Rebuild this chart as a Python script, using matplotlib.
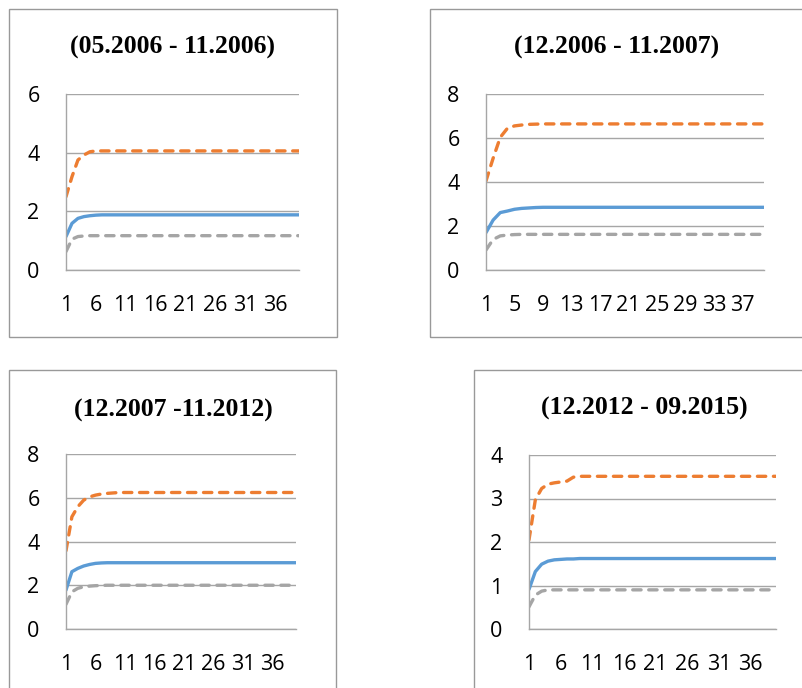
import matplotlib
matplotlib.use('Agg')
import matplotlib.pyplot as plt
from matplotlib.patches import Rectangle

W, H = 803, 688

titles = ['(05.2006 - 11.2006)', '(12.2006 - 11.2007)',
          '(12.2007 -11.2012)', '(12.2012 - 09.2015)']
periods = list(range(1, 41))

# panel 1
p1_orange = [2.50, 3.18, 3.75, 3.92, 4.03, 4.06, 4.06, 4.06, 4.06, 4.06,
             4.06, 4.06, 4.06, 4.06, 4.06, 4.06, 4.06, 4.06, 4.06, 4.06,
             4.06, 4.06, 4.06, 4.06, 4.06, 4.06, 4.06, 4.06, 4.06, 4.06,
             4.06, 4.06, 4.06, 4.06, 4.06, 4.06, 4.06, 4.06, 4.06, 4.06]
p1_blue = [1.14, 1.59, 1.76, 1.82, 1.85, 1.87, 1.88, 1.88, 1.88, 1.88,
           1.88, 1.88, 1.88, 1.88, 1.88, 1.88, 1.88, 1.88, 1.88, 1.88,
           1.88, 1.88, 1.88, 1.88, 1.88, 1.88, 1.88, 1.88, 1.88, 1.88,
           1.88, 1.88, 1.88, 1.88, 1.88, 1.88, 1.88, 1.88, 1.88, 1.88]
p1_gray = [0.63, 1.05, 1.14, 1.16, 1.17, 1.17, 1.17, 1.17, 1.17, 1.17,
           1.17, 1.17, 1.17, 1.17, 1.17, 1.17, 1.17, 1.17, 1.17, 1.17,
           1.17, 1.17, 1.17, 1.17, 1.17, 1.17, 1.17, 1.17, 1.17, 1.17,
           1.17, 1.17, 1.17, 1.17, 1.17, 1.17, 1.17, 1.17, 1.17, 1.17]

# panel 2
p2_orange = [4.05, 5.08, 6.03, 6.44, 6.55, 6.59, 6.62, 6.63, 6.64, 6.64,
             6.64, 6.64, 6.64, 6.64, 6.64, 6.64, 6.64, 6.64, 6.64, 6.64,
             6.64, 6.64, 6.64, 6.64, 6.64, 6.64, 6.64, 6.64, 6.64, 6.64,
             6.64, 6.64, 6.64, 6.64, 6.64, 6.64, 6.64, 6.64, 6.64, 6.64]
p2_blue = [1.70, 2.27, 2.61, 2.68, 2.76, 2.80, 2.82, 2.84, 2.85, 2.85,
           2.85, 2.85, 2.85, 2.85, 2.85, 2.85, 2.85, 2.85, 2.85, 2.85,
           2.85, 2.85, 2.85, 2.85, 2.85, 2.85, 2.85, 2.85, 2.85, 2.85,
           2.85, 2.85, 2.85, 2.85, 2.85, 2.85, 2.85, 2.85, 2.85, 2.85]
p2_gray = [0.91, 1.39, 1.55, 1.59, 1.61, 1.62, 1.62, 1.62, 1.62, 1.62,
           1.62, 1.62, 1.62, 1.62, 1.62, 1.62, 1.62, 1.62, 1.62, 1.62,
           1.62, 1.62, 1.62, 1.62, 1.62, 1.62, 1.62, 1.62, 1.62, 1.62,
           1.62, 1.62, 1.62, 1.62, 1.62, 1.62, 1.62, 1.62, 1.62, 1.62]

# panel 3
p3_orange = [3.58, 5.13, 5.59, 5.89, 6.04, 6.12, 6.17, 6.20, 6.22, 6.24,
             6.24, 6.24, 6.24, 6.24, 6.24, 6.24, 6.24, 6.24, 6.24, 6.24,
             6.24, 6.24, 6.24, 6.24, 6.24, 6.24, 6.24, 6.24, 6.24, 6.24,
             6.24, 6.24, 6.24, 6.24, 6.24, 6.24, 6.24, 6.24, 6.24, 6.24]
p3_blue = [1.78, 2.62, 2.77, 2.88, 2.95, 3.00, 3.02, 3.03, 3.03, 3.03,
           3.03, 3.03, 3.03, 3.03, 3.03, 3.03, 3.03, 3.03, 3.03, 3.03,
           3.03, 3.03, 3.03, 3.03, 3.03, 3.03, 3.03, 3.03, 3.03, 3.03,
           3.03, 3.03, 3.03, 3.03, 3.03, 3.03, 3.03, 3.03, 3.03, 3.03]
p3_gray = [1.13, 1.70, 1.86, 1.93, 1.96, 1.98, 1.99, 2.00, 2.00, 2.00,
           2.00, 2.00, 2.00, 2.00, 2.00, 2.00, 2.00, 2.00, 2.00, 2.00,
           2.00, 2.00, 2.00, 2.00, 2.00, 2.00, 2.00, 2.00, 2.00, 2.00,
           2.00, 2.00, 2.00, 2.00, 2.00, 2.00, 2.00, 2.00, 2.00, 2.00]

# panel 4
p4_orange = [2.05, 2.97, 3.23, 3.33, 3.36, 3.38, 3.40, 3.49, 3.51, 3.51,
             3.51, 3.51, 3.51, 3.51, 3.51, 3.51, 3.51, 3.51, 3.51, 3.51,
             3.51, 3.51, 3.51, 3.51, 3.51, 3.51, 3.51, 3.51, 3.51, 3.51,
             3.51, 3.51, 3.51, 3.51, 3.51, 3.51, 3.51, 3.51, 3.51, 3.51]
p4_blue = [0.91, 1.32, 1.49, 1.56, 1.59, 1.60, 1.61, 1.61, 1.62, 1.62,
           1.62, 1.62, 1.62, 1.62, 1.62, 1.62, 1.62, 1.62, 1.62, 1.62,
           1.62, 1.62, 1.62, 1.62, 1.62, 1.62, 1.62, 1.62, 1.62, 1.62,
           1.62, 1.62, 1.62, 1.62, 1.62, 1.62, 1.62, 1.62, 1.62, 1.62]
p4_gray = [0.51, 0.78, 0.87, 0.90, 0.90, 0.90, 0.90, 0.90, 0.90, 0.90,
           0.90, 0.90, 0.90, 0.90, 0.90, 0.90, 0.90, 0.90, 0.90, 0.90,
           0.90, 0.90, 0.90, 0.90, 0.90, 0.90, 0.90, 0.90, 0.90, 0.90,
           0.90, 0.90, 0.90, 0.90, 0.90, 0.90, 0.90, 0.90, 0.90, 0.90]

# layout in pixels: box (l, t, r, b), plot area (l, t, r, b), title centre (x, y)
panels = [
    dict(box=(9, 9, 337, 337), area=(66, 94, 299, 270), tc=(173, 47),
         ymax=6, ystep=2, xstep=5, series=(p1_blue, p1_orange, p1_gray)),
    dict(box=(430, 9, 812, 337), area=(486, 94, 764, 270), tc=(617, 47),
         ymax=8, ystep=2, xstep=4, series=(p2_blue, p2_orange, p2_gray)),
    dict(box=(9, 370, 336, 700), area=(66, 454, 296, 629), tc=(173, 410),
         ymax=8, ystep=2, xstep=5, series=(p3_blue, p3_orange, p3_gray)),
    dict(box=(474, 370, 812, 700), area=(529, 455, 776, 629), tc=(644, 408),
         ymax=4, ystep=1, xstep=5, series=(p4_blue, p4_orange, p4_gray)),
]

fig = plt.figure(figsize=(W / 100, H / 100), dpi=100)
fig.patch.set_facecolor('white')

grid_c = '#a6a6a6'
for p, title in zip(panels, titles):
    l, t, r, b = p['box']
    fig.patches.append(Rectangle((l / W, 1 - b / H), (r - l) / W, (b - t) / H,
                                 transform=fig.transFigure, fill=False,
                                 edgecolor='#999999', linewidth=1.0))
    fig.text(p['tc'][0] / W, 1 - p['tc'][1] / H, title, ha='center', va='center',
             family='Liberation Serif', fontweight='bold', fontsize=18.5)

    l, t, r, b = p['area']
    ax = fig.add_axes([l / W, 1 - b / H, (r - l) / W, (b - t) / H])
    blue, orange, gray = p['series']
    ax.plot(periods, blue, color='#5B9BD5', lw=2.4, solid_capstyle='round')
    ax.plot(periods, orange, color='#ED7D31', lw=2.4, dashes=(2.5, 2.3),
            dash_capstyle='round')
    ax.plot(periods, gray, color='#A5A5A5', lw=2.4, dashes=(2.5, 2.3),
            dash_capstyle='round')

    ax.set_xlim(1, 40)
    ax.set_ylim(0, p['ymax'])
    ax.set_yticks(range(0, p['ymax'] + 1, p['ystep']))
    ax.set_xticks(periods[::p['xstep']])
    ax.grid(axis='y', color=grid_c, linewidth=1.0)
    ax.set_axisbelow(True)
    for s in ['top', 'right']:
        ax.spines[s].set_visible(False)
    for s in ['left', 'bottom']:
        ax.spines[s].set_color(grid_c)
        ax.spines[s].set_linewidth(1.0)
    ax.tick_params(length=0, labelsize=15.5)
    ax.tick_params(axis='y', pad=19)
    ax.tick_params(axis='x', pad=18)
    for lab in ax.get_xticklabels() + ax.get_yticklabels():
        lab.set_family('Open Sans')

fig.savefig('out.png', dpi=100)
